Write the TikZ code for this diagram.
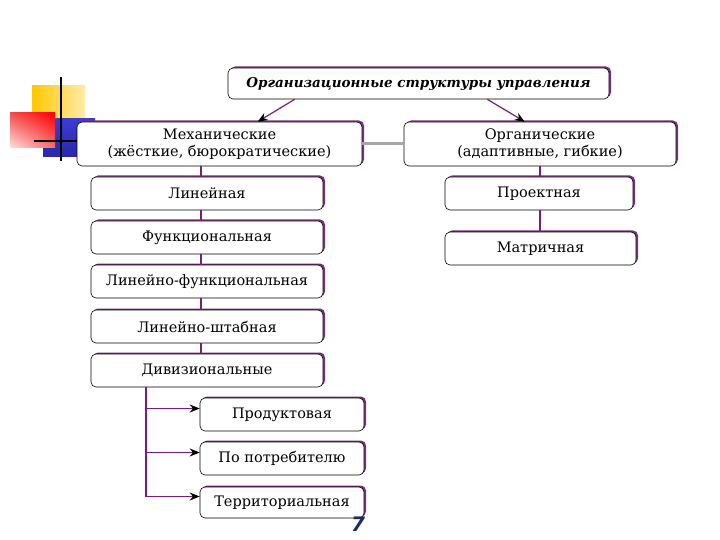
\documentclass[tikz,border=0pt]{standalone}
\usepackage{fontspec}
\setmainfont{DejaVu Serif}
\newfontfamily\numfont{DejaVu Sans}
\usepackage{xcolor}
\usetikzlibrary{positioning,shadows,shadings,arrows.meta}

\definecolor{boxedge}{RGB}{125,45,125}
\definecolor{linkcol}{RGB}{120,30,120}
\definecolor{pagenum}{RGB}{25,45,95}

\begin{document}
\begin{tikzpicture}[x=1pt,y=-1pt,
    box/.style={draw=black, line width=0.6pt, fill=white, rounded corners=5pt,
        inner sep=0pt, align=center, font=\fontsize{14.5}{17}\selectfont,
        drop shadow={shadow xshift=2pt, shadow yshift=1.5pt, fill=boxedge, opacity=1}},
    link/.style={draw=linkcol, line width=1.2pt},
    arr/.style={link, -{Stealth[length=10pt,width=8pt,black]}}]
    \useasboundingbox (0,0) rectangle (720,540);

    % Corner decoration
    \shade[left color={rgb,255:red,255;green,200;blue,0}, right color={rgb,255:red,255;green,235;blue,170}] (32,86) rectangle (85,120);
    \shade[top color={rgb,255:red,60;green,60;blue,210}, bottom color={rgb,255:red,40;green,40;blue,170}] (43,119) rectangle (95,157);
    \shade[upper right=red, upper left={rgb,255:red,240;green,80;blue,80}, lower right={rgb,255:red,245;green,110;blue,110}, lower left={rgb,255:red,255;green,225;blue,225}] (10,113) rectangle (55,148);
    \draw[line width=2pt] (61,77) -- (61,161);
    \draw[line width=2pt] (34,141) -- (90,141);

    % Top level
    \node[box, minimum width=381pt, minimum height=31pt, font=\fontsize{13.5}{16}\selectfont\bfseries\itshape] (top) at (418.5,83.5) {Организационные структуры управления};
    \node[box, minimum width=285pt, minimum height=44pt] (mech) at (219.5,144) {Механические\\(жёсткие, бюрократические)};
    \node[box, minimum width=272pt, minimum height=44pt] (org) at (540,144) {Органические\\(адаптивные, гибкие)};

    % Left column
    \node[box, minimum width=232pt, minimum height=33pt] (lin) at (207,193.5) {Линейная};
    \node[box, minimum width=232pt, minimum height=33pt] (func) at (207,237.5) {Функциональная};
    \node[box, minimum width=232pt, minimum height=33pt] (linfunc) at (207,281.5) {Линейно-функциональная};
    \node[box, minimum width=232pt, minimum height=33pt] (linstab) at (207,326.5) {Линейно-штабная};
    \node[box, minimum width=232pt, minimum height=33pt] (div) at (207,370.5) {Дивизиональные};

    % Right column
    \node[box, minimum width=188pt, minimum height=33pt] (proj) at (539,193.5) {Проектная};
    \node[box, minimum width=191pt, minimum height=33pt] (matr) at (540.5,248.5) {Матричная};

    % Divisional kinds
    \node[box, minimum width=164pt, minimum height=33pt] (prod) at (282,414.5) {Продуктовая};
    \node[box, minimum width=164pt, minimum height=33pt] (cons) at (282,458.5) {По потребителю};
    \node[box, minimum width=164pt, minimum height=31pt] (terr) at (282,502.5) {Территориальная};

    % Connectors
    \draw[arr] ([xshift=67pt]top.south west) -- ([xshift=181pt]mech.north west);
    \draw[arr] ([xshift=-122pt]top.south east) -- ([xshift=121pt]org.north west);
    \draw[gray!70, line width=3pt] (mech.east) -- (org.west);
    \coordinate (mechdown) at ([xshift=-18.5pt]mech.south);
    \draw[link] (mechdown) -- (mechdown |- lin.north);
    \draw[link] (lin.south -| mechdown) -- (mechdown |- func.north);
    \draw[link] (func.south -| mechdown) -- (mechdown |- linfunc.north);
    \draw[link] (linfunc.south -| mechdown) -- (mechdown |- linstab.north);
    \draw[link] (linstab.south -| mechdown) -- (mechdown |- div.north);
    \draw[link] (org.south) -- (org.south |- proj.north);
    \draw[link] (proj.south -| org.south) -- (org.south |- matr.north);

    \coordinate (branch) at ([xshift=-61pt]div.south);
    \coordinate (p1) at ([yshift=6pt]prod.west);
    \coordinate (p2) at ([yshift=6pt]cons.west);
    \coordinate (p3) at ([yshift=6pt]terr.west);
    \draw[link] (branch) -- (branch |- p3);
    \foreach \p in {p1,p2,p3}
        \draw[arr] (branch |- \p) -- (\p);

    % Slide number
    \node[text=pagenum, font=\fontsize{20}{20}\selectfont\numfont\bfseries\itshape] (num) at (358,524) {7};
\end{tikzpicture}
\end{document}
